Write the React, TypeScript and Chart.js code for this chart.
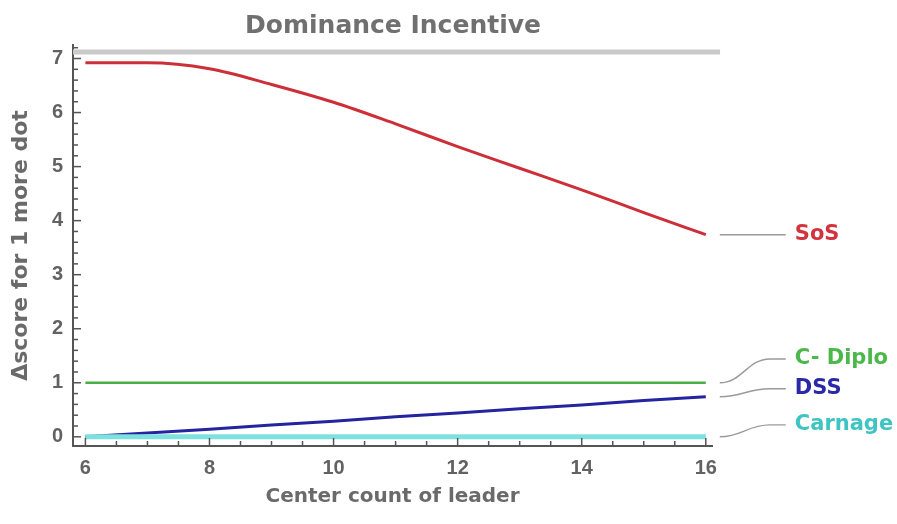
import React, { useEffect, useRef } from "react";
import { Chart, registerables } from "chart.js";

Chart.register(...registerables);

const centerCounts = [6, 7, 8, 9, 10, 11, 12, 13, 14, 15, 16];
const sosValues = [6.92, 6.92, 6.81, 6.52, 6.19, 5.79, 5.37, 4.97, 4.57, 4.15, 3.74];
const cDiploValues = [1, 1, 1, 1, 1, 1, 1, 1, 1, 1, 1];
const dssValues = [0.0, 0.07, 0.14, 0.22, 0.29, 0.37, 0.44, 0.52, 0.59, 0.67, 0.74];
const carnageValues = [0, 0, 0, 0, 0, 0, 0, 0, 0, 0, 0];
const topLineX = [5.8, 16.23];
const topLineValues = [7.12, 7.12];
const xTickValues = [6, 8, 10, 12, 14, 16];
const yTickValues = [0, 1, 2, 3, 4, 5, 6, 7];
const seriesNames = ["SoS", "C- Diplo", "DSS", "Carnage"];
const seriesColors = ["#d2333c", "#4cb84c", "#2a2aa8", "#3fc4c4"];
const lineColors = ["#cc2f38", "#46b046", "#2424a0", "#7fe0e0"];
const labelValues = [3.74, 1.44, 0.89, 0.22];

const ARIAL = "'Liberation Sans', Arial, sans-serif";
const WIDE = "'DejaVu Sans', sans-serif";

const pts = (xs: number[], ys: number[]) => xs.map((x, i) => ({ x, y: ys[i] }));

const decorPlugin = {
  id: "decor",
  afterDatasetsDraw(chart: any) {
    const { ctx } = chart;
    const xs = chart.scales.x;
    const ys = chart.scales.y;
    const left = chart.chartArea.left;
    const bottom = chart.chartArea.bottom;
    ctx.save();
    ctx.strokeStyle = "#555";
    ctx.lineWidth = 1.5;
    for (let i = 0; i <= 36; i++) {
      const v = i * 0.2;
      const py = ys.getPixelForValue(v);
      const major = i % 5 === 0;
      ctx.beginPath();
      ctx.moveTo(left, py);
      ctx.lineTo(left + (major ? 8 : 5), py);
      ctx.stroke();
    }
    for (let i = 0; i <= 20; i++) {
      const v = 6 + i * 0.5;
      const px = xs.getPixelForValue(v);
      const major = i % 4 === 0;
      ctx.beginPath();
      ctx.moveTo(px, bottom);
      ctx.lineTo(px, bottom - (major ? 8 : 5));
      ctx.stroke();
    }
    const endX = xs.getPixelForValue(16);
    const ends = [sosValues[10], cDiploValues[10], dssValues[10], carnageValues[10]];
    ctx.strokeStyle = "#9a9a9a";
    ctx.lineWidth = 1.4;
    ctx.font = `bold 21px ${WIDE}`;
    ctx.textBaseline = "middle";
    ctx.textAlign = "left";
    for (let i = 0; i < 4; i++) {
      const y0 = ys.getPixelForValue(ends[i]);
      const y1 = ys.getPixelForValue(labelValues[i]);
      const x0 = endX + 14;
      const x1 = endX + 80;
      ctx.beginPath();
      ctx.moveTo(x0, y0);
      if (Math.abs(y1 - y0) < 2) {
        ctx.lineTo(x1, y1);
      } else {
        ctx.bezierCurveTo(x0 + 22, y0, x0 + 28, y1, x0 + 50, y1);
        ctx.lineTo(x1, y1);
      }
      ctx.stroke();
      ctx.fillStyle = seriesColors[i];
      ctx.fillText(seriesNames[i], x1 + 9, y1);
    }
    ctx.restore();
  },
};

export default function App() {
  const ref = useRef<HTMLCanvasElement | null>(null);
  useEffect(() => {
    document.body.style.margin = "0";
    const canvas = ref.current;
    if (!canvas) return;
    const chart = new Chart(canvas, {
      type: "line",
      data: {
        datasets: [
          {
            label: "top",
            data: pts(topLineX, topLineValues),
            borderColor: "#cacaca",
            borderWidth: 5,
            pointRadius: 0,
            clip: false as any,
          },
          {
            label: seriesNames[3],
            data: pts(centerCounts, carnageValues),
            borderColor: lineColors[3],
            borderWidth: 5,
            pointRadius: 0,
          },
          {
            label: seriesNames[1],
            data: pts(centerCounts, cDiploValues),
            borderColor: lineColors[1],
            borderWidth: 2.5,
            pointRadius: 0,
          },
          {
            label: seriesNames[2],
            data: pts(centerCounts, dssValues),
            borderColor: lineColors[2],
            borderWidth: 3,
            pointRadius: 0,
          },
          {
            label: seriesNames[0],
            data: pts(centerCounts, sosValues),
            borderColor: lineColors[0],
            borderWidth: 3,
            pointRadius: 0,
            cubicInterpolationMode: "monotone",
          },
        ],
      },
      options: {
        animation: false,
        responsive: false,
        maintainAspectRatio: false,
        layout: { padding: { left: 0, right: 111, top: 0, bottom: 0 } },
        plugins: {
          legend: { display: false },
          tooltip: { enabled: false },
          title: {
            display: true,
            text: "Dominance Incentive",
            color: "#707070",
            font: { family: WIDE, size: 25, weight: "bold" },
            padding: { top: 11, bottom: 4 },
          },
        },
        scales: {
          x: {
            type: "linear",
            min: 5.8,
            max: 16.1,
            afterBuildTicks: (s: any) => {
              s.ticks = xTickValues.map((v) => ({ value: v }));
            },
            afterFit: (s: any) => {
              s.height = 78;
            },
            grid: { display: false, drawTicks: false },
            border: { display: true, color: "#555", width: 2 },
            ticks: {
              color: "#626262",
              padding: 10,
              font: { family: ARIAL, size: 20, weight: "bold" },
            },
            title: {
              display: true,
              text: "Center count of leader",
              color: "#6a6a6a",
              font: { family: WIDE, size: 20, weight: "bold" },
              padding: { top: 4, bottom: 15 },
            },
          },
          y: {
            type: "linear",
            min: -0.17,
            max: 7.25,
            afterBuildTicks: (s: any) => {
              s.ticks = yTickValues.map((v) => ({ value: v }));
            },
            afterFit: (s: any) => {
              s.width = 73;
            },
            grid: { display: false, drawTicks: false },
            border: { display: true, color: "#555", width: 2 },
            ticks: {
              color: "#626262",
              padding: 10,
              font: { family: ARIAL, size: 20, weight: "bold" },
            },
            title: {
              display: true,
              text: "Δscore for 1 more dot",
              color: "#6a6a6a",
              font: { family: WIDE, size: 22, weight: "bold" },
              padding: { top: 8, bottom: 0 },
            },
          },
          y2: {
            type: "linear",
            position: "right",
            min: -0.17,
            max: 7.25,
            afterFit: (s: any) => {
              s.width = 74;
            },
            grid: { display: false, drawTicks: false },
            border: { display: false },
            ticks: { display: false },
          },
        },
      },
      plugins: [decorPlugin],
    });
    return () => chart.destroy();
  }, []);
  return (
    <div style={{ width: 897, height: 524, background: "#fff" }}>
      <canvas ref={ref} width={897} height={524} style={{ display: "block" }} />
    </div>
  );
}
